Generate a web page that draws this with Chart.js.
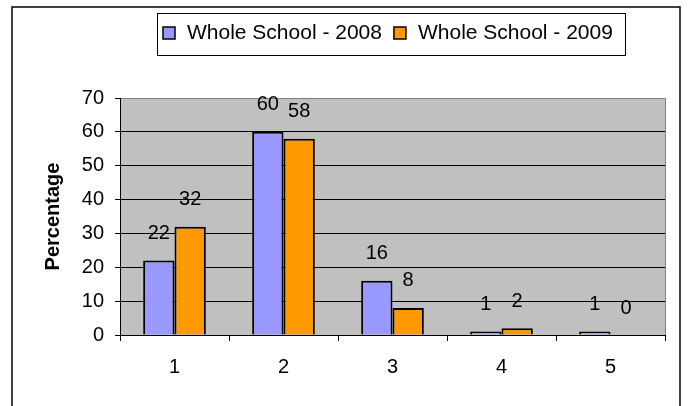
<!DOCTYPE html>
<html>
<head>
<meta charset="utf-8">
<script src="https://cdn.jsdelivr.net/npm/chart.js@4/dist/chart.umd.min.js"></script>
<style>
  html, body { margin: 0; padding: 0; background: #fff; }
  #wrap { width: 688px; height: 406px; }
</style>
</head>
<body>
<div id="wrap"><canvas id="grafico"></canvas></div>
<script>
const categorias = ["1", "2", "3", "4", "5"];
const serieNomes = ["Whole School - 2008", "Whole School - 2009"];
const valores2008 = [22, 60, 16, 1, 1];
const valores2009 = [32, 58, 8, 2, 0];
const yMin = 0, yMax = 70, yPasso = 10;
const yTitulo = "Percentage";

const cores = ["#9999FF", "#FF9900"];
const fonte = '"Liberation Sans", Arial, sans-serif';

// fundo branco, moldura externa e area do grafico cinza
const fundoPlugin = {
  id: "fundo",
  beforeDraw(chart) {
    const { ctx, chartArea: a } = chart;
    ctx.save();
    ctx.fillStyle = "#fff";
    ctx.fillRect(0, 0, chart.width, chart.height);
    ctx.strokeStyle = "#000";
    ctx.lineWidth = 1.5;
    ctx.strokeRect(12, 7, 668, 450);
    ctx.fillStyle = "#C0C0C0";
    ctx.fillRect(a.left, a.top, a.right - a.left, a.bottom - a.top);
    ctx.restore();
  },
  afterDatasetsDraw(chart) {
    const { ctx, chartArea: a } = chart;
    ctx.save();
    ctx.strokeStyle = "#808080";
    ctx.lineWidth = 1;
    ctx.beginPath();
    ctx.moveTo(a.right + 0.5, a.top);
    ctx.lineTo(a.right + 0.5, a.bottom);
    ctx.stroke();
    ctx.restore();
  }
};

// valores em cima das barras
const rotulosPlugin = {
  id: "rotulos",
  afterDatasetsDraw(chart) {
    const ctx = chart.ctx;
    ctx.save();
    ctx.font = "20px " + fonte;
    ctx.fillStyle = "#000";
    ctx.textAlign = "center";
    ctx.textBaseline = "middle";
    chart.data.datasets.forEach((ds, i) => {
      chart.getDatasetMeta(i).data.forEach((bar, j) => {
        ctx.fillText(String(ds.data[j]), bar.x, bar.y - 27);
      });
    });
    ctx.restore();
  }
};

// legenda com caixa, no topo
const legendaPlugin = {
  id: "legendaCaixa",
  afterDraw(chart) {
    const ctx = chart.ctx;
    ctx.save();
    ctx.strokeStyle = "#000";
    ctx.lineWidth = 1;
    ctx.fillStyle = "#fff";
    ctx.fillRect(157.5, 13.5, 468, 42);
    ctx.strokeRect(157.5, 13.5, 468, 42);
    ctx.font = "21px " + fonte;
    ctx.textBaseline = "alphabetic";
    let x = 163;
    chart.data.datasets.forEach(ds => {
      ctx.fillStyle = ds.backgroundColor;
      ctx.fillRect(x, 27, 12, 12);
      ctx.strokeStyle = "#000";
      ctx.lineWidth = 1.5;
      ctx.strokeRect(x, 27, 12, 12);
      ctx.fillStyle = "#000";
      ctx.fillText(ds.label, x + 24, 38.5);
      x += 24 + ctx.measureText(ds.label).width + 12;
    });
    ctx.restore();
  }
};

const ctx = document.getElementById("grafico").getContext("2d");

new Chart(ctx, {
  type: "bar",
  data: {
    labels: categorias,
    datasets: [
      { label: serieNomes[0], data: valores2008, backgroundColor: cores[0] },
      { label: serieNomes[1], data: valores2009, backgroundColor: cores[1] }
    ]
  },
  options: {
    responsive: true,
    maintainAspectRatio: false,
    animation: false,
    events: [],
    layout: { padding: { top: 98, right: 23, bottom: 0, left: 0 } },
    datasets: {
      bar: {
        barPercentage: 1,
        categoryPercentage: 0.575,
        borderColor: "#000",
        borderWidth: 2,
        borderSkipped: "start"
      }
    },
    plugins: {
      legend: { display: false },
      tooltip: { enabled: false },
      title: { display: false }
    },
    scales: {
      x: {
        afterFit(scale) { scale.height = 71; },
        grid: {
          offset: true,
          drawOnChartArea: false,
          drawTicks: true,
          tickLength: 6,
          color: "#000"
        },
        border: { display: true, color: "#000", width: 1 },
        ticks: { color: "#000", padding: 14, font: { family: fonte, size: 20 } }
      },
      y: {
        min: yMin,
        max: yMax,
        afterFit(scale) { scale.width = 120; },
        grid: {
          color: c => (c.tick && c.tick.value === yMax ? "#808080" : "#000"),
          tickColor: "#000",
          tickLength: 5
        },
        border: { display: true, color: "#000", width: 1 },
        ticks: {
          stepSize: yPasso,
          color: "#000",
          padding: 11,
          font: { family: fonte, size: 20 }
        },
        title: {
          display: true,
          text: yTitulo,
          color: "#000",
          padding: { top: 41, bottom: 0 },
          font: { family: fonte, size: 20, weight: "bold" }
        }
      }
    }
  },
  plugins: [fundoPlugin, rotulosPlugin, legendaPlugin]
});
</script>
</body>
</html>
